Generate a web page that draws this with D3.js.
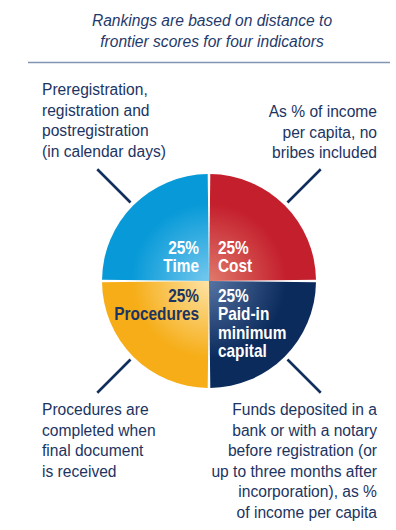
<!DOCTYPE html>
<html>
<head>
<meta charset="utf-8">
<script src="https://cdn.jsdelivr.net/npm/d3@7/dist/d3.min.js"></script>
<style>
  html, body { margin: 0; padding: 0; background: #ffffff; }
  svg { display: block; }
  text { font-family: "Liberation Sans", Arial, sans-serif; }
</style>
</head>
<body>
<svg id="chart" width="396" height="530"></svg>
<script>
// Indicator shares (percent of the ranking), clockwise from 12 o'clock
const categories = ["Cost", "Paid-in minimum capital", "Procedures", "Time"];
const shares = [25, 25, 25, 25];
const sliceNames = [["Cost"], ["Paid-in", "minimum", "capital"], ["Procedures"], ["Time"]];
const baseColors = ["#c41f2d", "#0b2b5c", "#f6ad17", "#089ad8"];
const lightColors = ["#e0796a", "#5573a3", "#fde3a6", "#74c8ee"];
const labelColors = ["#ffffff", "#ffffff", "#1c3461", "#ffffff"];

const titleLines = ["Rankings are based on distance to", "frontier scores for four indicators"];

// Notes describing each indicator, placed at the outer corners
const noteTime = ["Preregistration,", "registration and", "postregistration", "(in calendar days)"];
const noteCost = ["As % of income", "per capita, no", "bribes included"];
const noteProcedures = ["Procedures are", "completed when", "final document", "is received"];
const noteCapital = ["Funds deposited in a", "bank or with a notary", "before registration (or",
                     "up to three months after", "incorporation), as %", "of income per capita"];

const navy = "#1c3461";
const svg = d3.select("#chart");
const cx = 209, cy = 281, R = 107;

// Title and rule
svg.append("g").selectAll("text").data(titleLines).join("text")
  .attr("x", 212).attr("y", (d, i) => 26 + i * 21)
  .attr("text-anchor", "middle")
  .attr("font-size", 15.6).attr("font-style", "italic")
  .attr("fill", "#1f3a6b")
  .text(d => d);
svg.append("line").attr("x1", 28).attr("x2", 390).attr("y1", 62.5).attr("y2", 62.5)
  .attr("stroke", "#8393b2").attr("stroke-width", 1.3);

// Radial shading for each slice
const defs = svg.append("defs");
categories.forEach((c, i) => {
  const g = defs.append("radialGradient").attr("id", "grad" + i)
    .attr("gradientUnits", "userSpaceOnUse")
    .attr("cx", 0).attr("cy", 0).attr("r", R);
  g.append("stop").attr("offset", 0).attr("stop-color", lightColors[i]);
  g.append("stop").attr("offset", 0.72).attr("stop-color", baseColors[i]);
  g.append("stop").attr("offset", 1).attr("stop-color", baseColors[i]);
});

const pie = d3.pie().sort(null).value(d => d.share);
const arc = d3.arc().innerRadius(0).outerRadius(R);
const data = categories.map((c, i) => ({ name: c, share: shares[i], i }));
const arcs = pie.padAngle(2.6 / R)(data);

const g = svg.append("g").attr("transform", `translate(${cx},${cy})`);
g.selectAll("path").data(arcs).join("path")
  .attr("d", arc)
  .attr("fill", d => `url(#grad${d.data.i})`);

// Leader lines along the diagonals
const leaderAngles = [Math.PI / 4, 3 * Math.PI / 4, 5 * Math.PI / 4, 7 * Math.PI / 4];
const r0 = 111, r1 = 158;
g.selectAll("line.leader").data(leaderAngles).join("line")
  .attr("class", "leader")
  .attr("x1", a => r0 * Math.sin(a)).attr("y1", a => -r0 * Math.cos(a))
  .attr("x2", a => r1 * Math.sin(a)).attr("y2", a => -r1 * Math.cos(a))
  .attr("stroke", "#102f5e").attr("stroke-width", 2.6);

// Labels inside the slices: share plus indicator name, in a condensed bold face
const condense = 0.88;
const labelPos = [
  { x: 9, y: -27, anchor: "start" },
  { x: 9, y: 21, anchor: "start" },
  { x: -10, y: 21, anchor: "end" },
  { x: -10, y: -27, anchor: "end" }
];
arcs.forEach(d => {
  const i = d.data.i, p = labelPos[i];
  const lines = [`${d.data.share}%`].concat(sliceNames[i]);
  g.append("g")
    .attr("transform", `translate(${p.x},${p.y}) scale(${condense},1)`)
    .selectAll("text").data(lines).join("text")
    .attr("x", 0).attr("y", (t, k) => k * 18.3)
    .attr("text-anchor", p.anchor)
    .attr("font-size", 17.5).attr("font-weight", "bold")
    .attr("fill", labelColors[i])
    .text(t => t);
});

// Corner notes
function note(lines, x, y0, anchor) {
  svg.append("g").selectAll("text").data(lines).join("text")
    .attr("x", x).attr("y", (d, i) => y0 + i * 20.5)
    .attr("text-anchor", anchor)
    .attr("font-size", 15.6).attr("fill", navy)
    .text(d => d);
}
note(noteTime, 42, 95, "start");
note(noteCost, 377, 117, "end");
note(noteProcedures, 42, 415, "start");
note(noteCapital, 377, 415, "end");
</script>
</body>
</html>
